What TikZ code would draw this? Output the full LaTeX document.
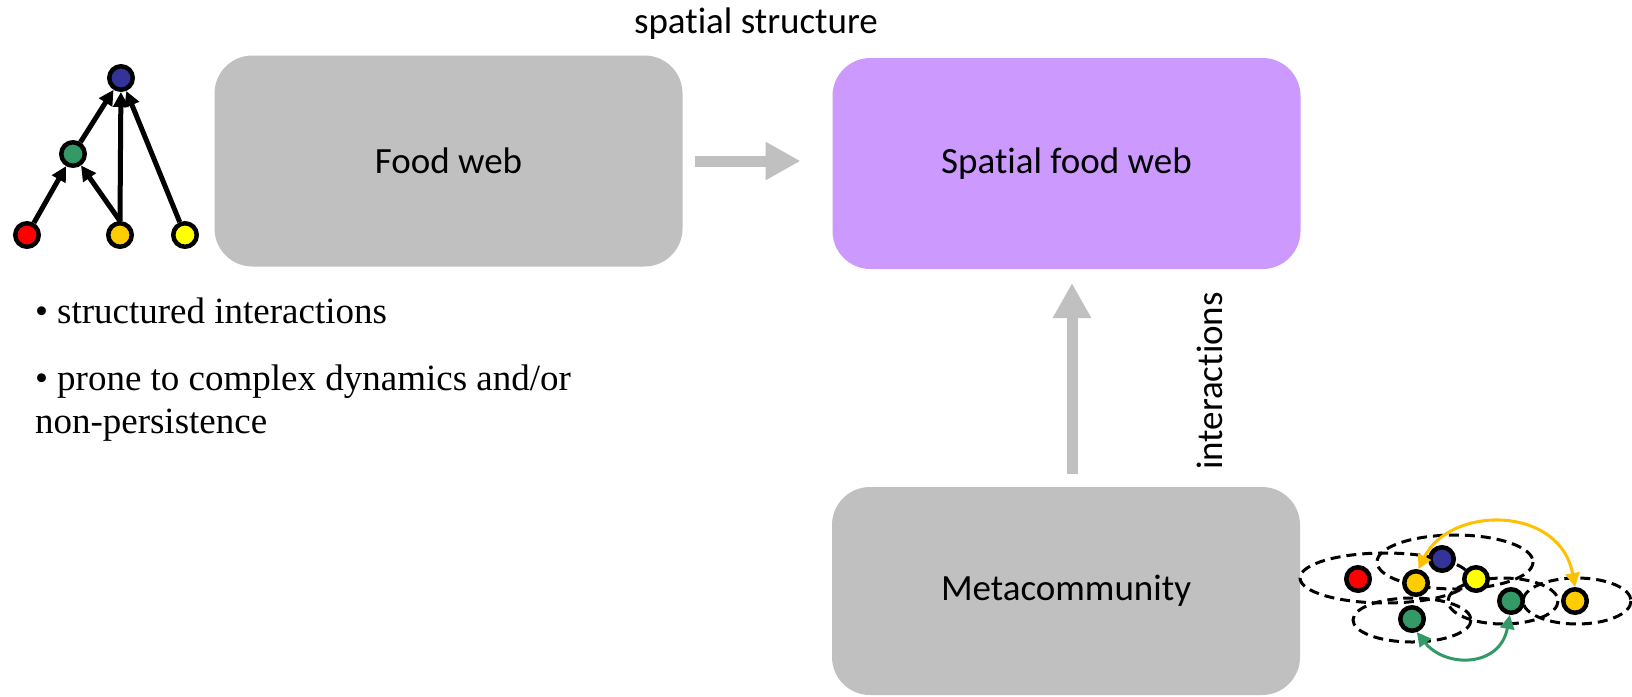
\documentclass[tikz,border=0pt]{standalone}
\usepackage{fontspec}
\setmainfont{Carlito}[Ligatures=NoCommon]
\newfontfamily\bodyserif{Liberation Serif}
\usetikzlibrary{arrows.meta,calc}
\definecolor{boxgray}{HTML}{C0C0C0}
\definecolor{lilac}{HTML}{CC99FF}
\definecolor{spred}{HTML}{FF0000}
\definecolor{spgold}{HTML}{FFCC00}
\definecolor{spyellow}{HTML}{FFFF00}
\definecolor{spgreen}{HTML}{339966}
\definecolor{spblue}{HTML}{333399}
\definecolor{arcgold}{HTML}{FFC000}

\begin{document}
\begin{tikzpicture}[x=1pt,y=-1pt,
  every node/.style={inner sep=0pt, outer sep=0pt},
  panel/.style={rounded corners=38pt, minimum width=468pt, minimum height=211pt,
    font=\fontsize{37pt}{44pt}\selectfont},
  caption/.style={font=\fontsize{37pt}{44pt}\selectfont},
  bullet/.style={font=\bodyserif\fontsize{37pt}{43pt}\selectfont, anchor=base west},
  sp/.style={circle, draw=black, line width=4.5pt, minimum size=23.5pt, outer sep=2.25pt},
  feeds/.style={line width=5pt, -{Triangle[length=15pt,width=15pt]}},
  bigarrow/.style={draw=boxgray, line width=11pt, -{Triangle[length=35pt,width=36pt]}},
  patch/.style={draw=black, dash pattern=on 10pt off 6pt, line width=3pt},
  disperse/.style={line width=3pt,
    {Triangle[length=14pt,width=14pt]}-{Triangle[length=14pt,width=14pt]}},
]
\useasboundingbox (0,0) rectangle (1632,696);
\fill[white] (0,0) rectangle (1632,696);

% three panels
\node[panel, fill=boxgray] (fw) at (448.5,161) {Food web};
\node[panel, fill=lilac] (sfw) at (1066.5,163.5) {Spatial food web};
\node[panel, fill=boxgray, minimum height=208pt] (mc) at (1066,591) {Metacommunity};

% labels on the transitions
\node[caption, anchor=base] (ss) at (756,33) {spatial structure};
\node[caption, rotate=90, anchor=base] (ia) at (1222,381) {interactions};

% transition arrows
\draw[bigarrow, shorten <=12pt, shorten >=32pt] (fw.east) -- (fw.east -| sfw.west);
\draw[bigarrow, shorten <=13pt, shorten >=14pt] ($(mc.north)+(6,0)$) -- ($(sfw.south)+(5.5,0)$);

% small food web
\node[sp, fill=spblue]   (top) at (121,78)  {};
\node[sp, fill=spgreen]  (mid) at (73,154)  {};
\node[sp, fill=spred]    (b1)  at (27,235)  {};
\node[sp, fill=spgold]   (b2)  at (120,235) {};
\node[sp, fill=spyellow] (b3)  at (185,235) {};
\draw[feeds] (b1) -- (mid);
\draw[feeds] (b2.north) -- (mid);
\draw[feeds] (b2.north) -- (top);
\draw[feeds] (b3) -- (top);
\draw[feeds] (mid) -- (top);

% bullet points
\node[bullet] (t1) at (35,323) {\textbullet{} structured interactions};
\node[bullet] (t2) at (35,390) {\textbullet{} prone to complex dynamics and/or};
\node[bullet] (t3) at (35,433) {non-persistence};

% metacommunity: habitat patches
\draw[patch] (1385,578) ellipse [x radius=85, y radius=25];
\draw[patch] (1455,562) ellipse [x radius=78, y radius=27];
\draw[patch] (1412,620) ellipse [x radius=59, y radius=22];
\draw[patch] (1503,601) ellipse [x radius=55, y radius=23];
\draw[patch] (1577,601) ellipse [x radius=54, y radius=23];

% metacommunity: species in patches
\node[sp, fill=spred]    (mr)  at (1358,579) {};
\node[sp, fill=spgold]   (mo1) at (1416,583) {};
\node[sp, fill=spblue]   (mb)  at (1442,559) {};
\node[sp, fill=spyellow] (my)  at (1476,579) {};
\node[sp, fill=spgreen]  (mg1) at (1412,619) {};
\node[sp, fill=spgreen]  (mg2) at (1511,601) {};
\node[sp, fill=spgold]   (mo2) at (1575,601) {};

% dispersal links
\draw[disperse, arcgold] (mo1.80) .. controls (1450,505) and (1560,505) .. (mo2.north);
\draw[disperse, spgreen] (mg1.290) .. controls (1445,668) and (1500,668) .. (mg2.265);
\end{tikzpicture}
\end{document}
